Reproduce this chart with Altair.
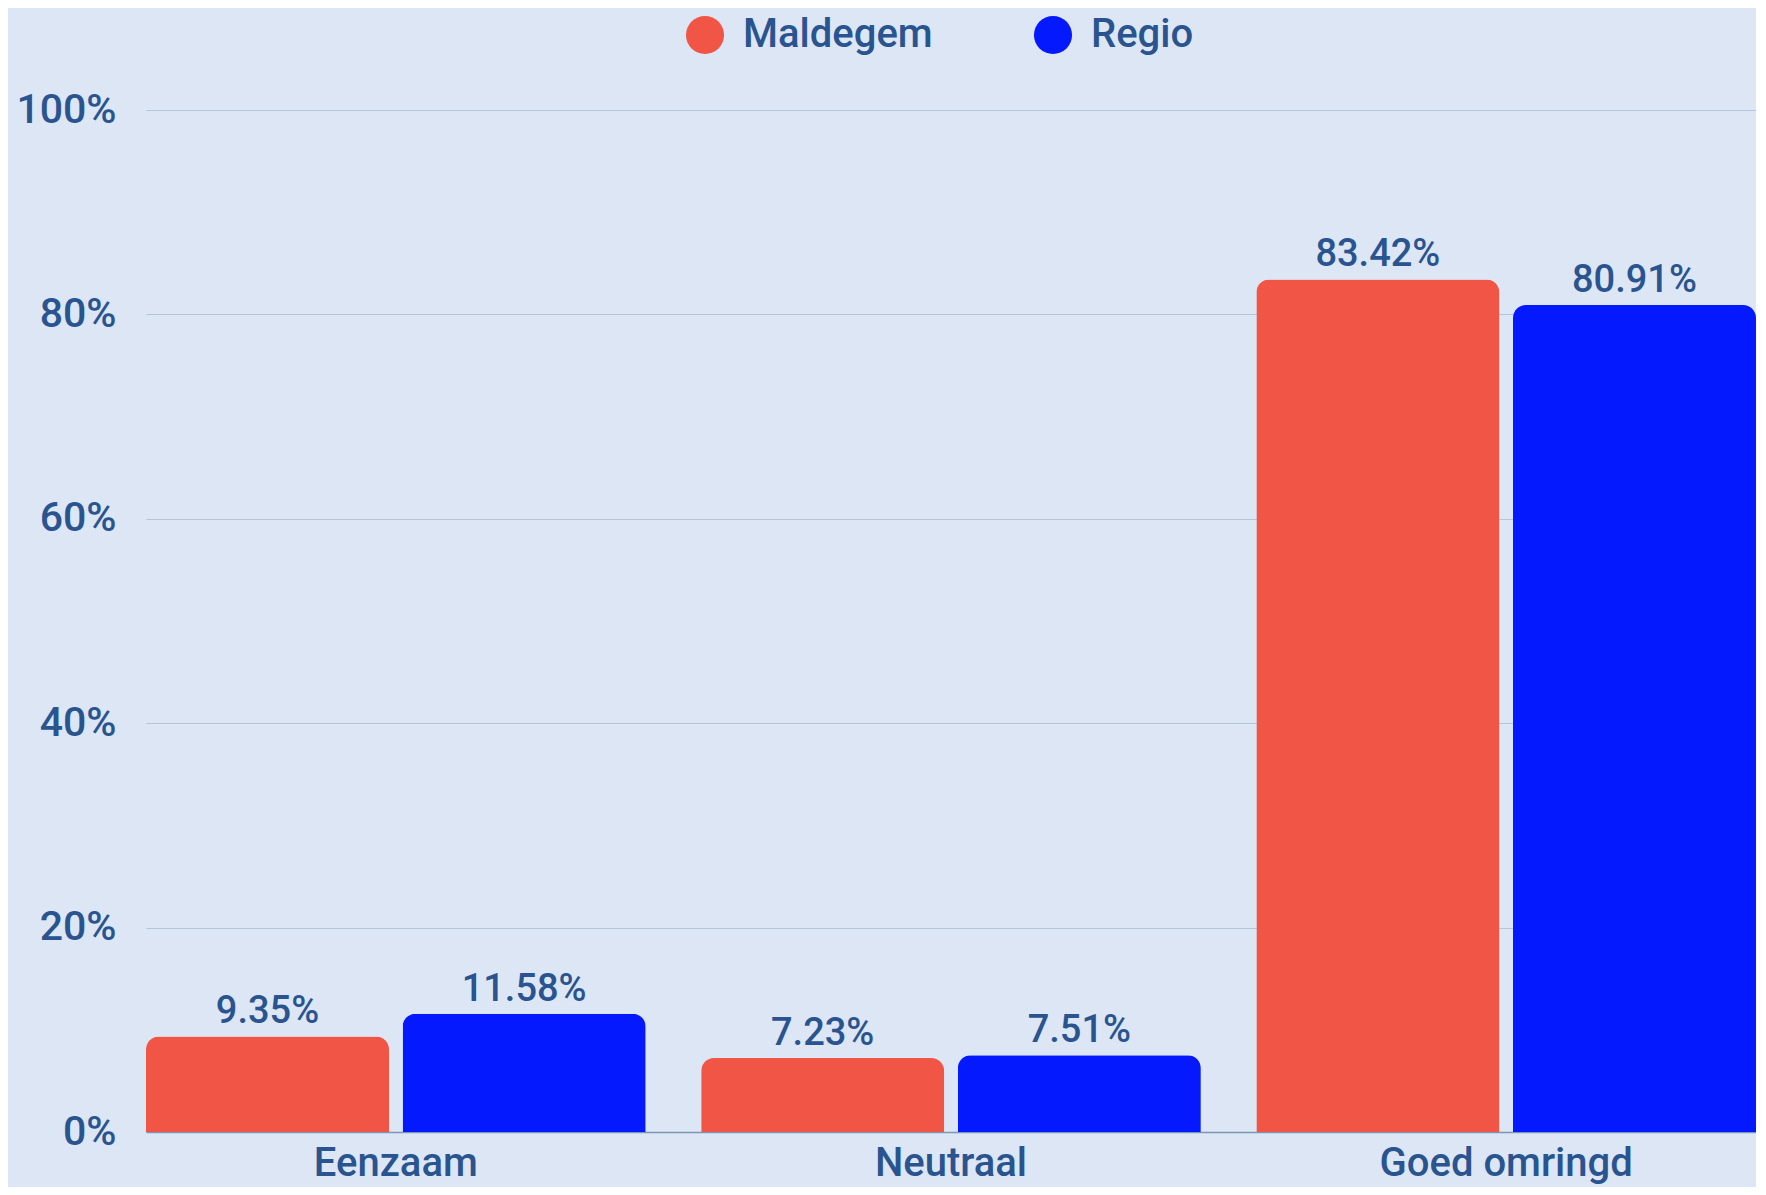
import altair as alt
import pandas as pd

categories = ["Eenzaam", "Neutraal", "Goed omringd"]
series = ["Maldegem", "Regio"]
maldegem = [9.35, 7.23, 83.42]
regio = [11.58, 7.51, 80.91]
colors = ["#F05545", "#0519FF"]

rows = []
for i, c in enumerate(categories):
    rows.append({"cat": c, "serie": "Maldegem", "v": maldegem[i] / 100})
    rows.append({"cat": c, "serie": "Regio", "v": regio[i] / 100})
df = pd.DataFrame(rows)

TXT = "#2A5490"
FONT = "Roboto"

x = alt.X("cat:N", sort=categories, title=None,
          scale=alt.Scale(paddingInner=0.1, paddingOuter=0),
          axis=alt.Axis(labelAngle=0, labelFontSize=40, labelColor=TXT, labelFont=FONT,
                        labelFontWeight=500, ticks=False, labelPadding=11, labelLimit=0,
                        domainColor="#7B96B8", domainWidth=1.5))
xo = alt.XOffset("serie:N", sort=series, scale=alt.Scale(paddingInner=0.053, paddingOuter=0))
y = alt.Y("v:Q", title=None,
          scale=alt.Scale(domain=[0, 1], nice=False),
          axis=alt.Axis(values=[0, 0.2, 0.4, 0.6, 0.8, 1.0], format=".0%", labelFontSize=41,
                        labelColor=TXT, labelFont=FONT, labelFontWeight=500, ticks=False,
                        domain=False, labelPadding=30, gridColor="#B3C5DB", gridWidth=1))
color = alt.Color("serie:N", sort=series, title=None,
                  scale=alt.Scale(domain=series, range=colors),
                  legend=alt.Legend(orient="none", legendX=539, legendY=-95, direction="horizontal",
                                    symbolType="circle", symbolSize=1450, symbolStrokeWidth=0,
                                    labelFontSize=40, labelFont=FONT, labelFontWeight=500,
                                    labelColor=TXT, columnPadding=100, labelOffset=18,
                                    labelLimit=0))

bars = alt.Chart(df).mark_bar(cornerRadiusTopLeft=13, cornerRadiusTopRight=13).encode(
    x=x, xOffset=xo, y=y, color=color)

labels = alt.Chart(df).mark_text(baseline="bottom", dy=-5, fontSize=38, font=FONT,
                                 fontWeight=500, color=TXT).encode(
    x=alt.X("cat:N", sort=categories), xOffset=alt.XOffset("serie:N", sort=series),
    y="v:Q", text=alt.Text("v:Q", format=".2%"))

chart = (bars + labels).properties(
    width=1610, height=1022, background="#DCE6F4",
    padding={"left": 138, "top": 102, "right": 0, "bottom": 55},
    autosize=alt.AutoSizeParams(type="none"),
).configure_view(stroke=None)

chart.save("out.html", embed_options={"renderer": "svg", "actions": False})
